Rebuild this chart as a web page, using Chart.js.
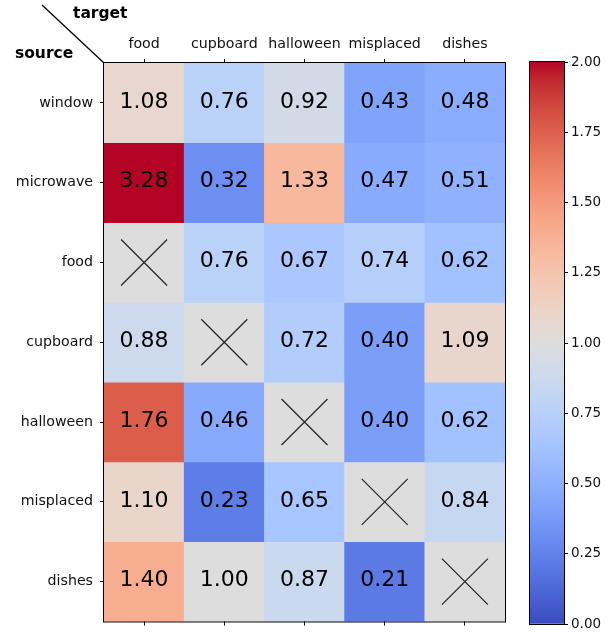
<!DOCTYPE html>
<html>
<head>
<meta charset="utf-8">
<script src="https://cdn.jsdelivr.net/npm/chart.js@4"></script>
<style>
  body { margin: 0; background: #fff; }
  #wrap { position: relative; width: 616px; height: 637px; }
  #heat { position: absolute; left: 0; top: 0; }
  #cbar { position: absolute; left: 520px; top: 0; }
</style>
</head>
<body>
<div id="wrap">
  <canvas id="heat" width="520" height="637"></canvas>
  <canvas id="cbar" width="96" height="637"></canvas>
</div>
<script>
// linhas (source) e colunas (target)
const sources = ['window', 'microwave', 'food', 'cupboard', 'halloween', 'misplaced', 'dishes'];
const targets = ['food', 'cupboard', 'halloween', 'misplaced', 'dishes'];

// valores por linha, null = mesma palavra (X)
const windowVals    = [1.08, 0.76, 0.92, 0.43, 0.48];
const microwaveVals = [3.28, 0.32, 1.33, 0.47, 0.51];
const foodVals      = [null, 0.76, 0.67, 0.74, 0.62];
const cupboardVals  = [0.88, null, 0.72, 0.40, 1.09];
const halloweenVals = [1.76, 0.46, null, 0.40, 0.62];
const misplacedVals = [1.10, 0.23, 0.65, null, 0.84];
const dishesVals    = [1.40, 1.00, 0.87, 0.21, null];
const values = [windowVals, microwaveVals, foodVals, cupboardVals, halloweenVals, misplacedVals, dishesVals];

const vmin = 0, vmax = 2;
const cbarStep = 0.25;

// coolwarm (tabela de Moreland, 33 pontos)
const coolwarm = [
  [59,76,192],[68,90,204],[77,104,215],[87,117,225],[98,130,234],[108,142,241],[119,154,247],[130,165,251],
  [141,176,254],[152,185,255],[163,194,255],[174,201,253],[184,208,249],[194,213,244],[204,217,238],[213,219,230],
  [221,221,221],[229,216,209],[236,211,197],[241,204,185],[245,196,173],[247,187,160],[247,177,148],[247,166,135],
  [244,154,123],[241,141,111],[236,127,99],[229,112,88],[222,96,77],[213,80,66],[203,62,56],[192,40,47],[180,4,38]
];

function cmap(t) {
  t = Math.max(0, Math.min(1, t));
  const p = t * (coolwarm.length - 1);
  const i = Math.min(Math.floor(p), coolwarm.length - 2);
  const f = p - i;
  const a = coolwarm[i], b = coolwarm[i + 1];
  const c = a.map((v, k) => Math.round(v + (b[k] - v) * f));
  return 'rgb(' + c.join(',') + ')';
}

function colorFor(v) {
  if (v === null) return cmap((1 - vmin) / (vmax - vmin));
  return cmap((v - vmin) / (vmax - vmin));
}

const tickFont = { family: 'DejaVu Sans', size: 14.2 };

// plugin com textos das células, X e moldura
const cellText = {
  id: 'cellText',
  afterDatasetsDraw(chart) {
    const ctx = chart.ctx;
    const x = chart.scales.x, y = chart.scales.y;
    ctx.save();
    ctx.font = '22px "DejaVu Sans"';
    ctx.textAlign = 'center';
    ctx.textBaseline = 'middle';
    ctx.fillStyle = '#000';
    values.forEach((row, r) => {
      row.forEach((v, c) => {
        const cx = x.getPixelForValue(c);
        const cy = y.getPixelForValue(r + 0.5);
        if (v === null) {
          const s = 23;
          ctx.strokeStyle = '#222';
          ctx.lineWidth = 1.2;
          ctx.beginPath();
          ctx.moveTo(cx - s, cy - s); ctx.lineTo(cx + s, cy + s);
          ctx.moveTo(cx + s, cy - s); ctx.lineTo(cx - s, cy + s);
          ctx.stroke();
        } else {
          ctx.fillText(v.toFixed(2), cx, cy - 1);
        }
      });
    });
    const a = chart.chartArea;
    ctx.strokeStyle = '#000';
    ctx.lineWidth = 1;
    ctx.strokeRect(a.left - 0.5, a.top - 0.5, a.right - a.left + 1, a.bottom - a.top + 1);

    // cabeçalho diagonal
    ctx.beginPath();
    ctx.moveTo(42, 5);
    ctx.lineTo(a.left, a.top);
    ctx.lineWidth = 1.3;
    ctx.stroke();
    ctx.font = 'bold 15.5px "DejaVu Sans"';
    ctx.textAlign = 'left';
    ctx.textBaseline = 'alphabetic';
    ctx.fillText('target', 73, 17.5);
    ctx.fillText('source', 15, 57.5);
    ctx.restore();
  }
};

const heatCtx = document.getElementById('heat').getContext('2d');
const heatChart = new Chart(heatCtx, {
  type: 'bar',
  data: {
    labels: targets,
    datasets: values.map((row, r) => ({
      label: sources[r],
      data: row.map(() => [r, r + 1]),
      backgroundColor: row.map(colorFor),
      borderWidth: 0,
      barPercentage: 1,
      categoryPercentage: 1,
      grouped: false,
      xAxisID: 'x',
      yAxisID: 'y'
    }))
  },
  options: {
    responsive: false,
    animation: false,
    layout: { padding: { left: 0, top: 0, right: 15, bottom: 0 } },
    plugins: { legend: { display: false }, tooltip: { enabled: false } },
    scales: {
      x: {
        type: 'category',
        position: 'top',
        offset: true,
        grid: { offset: false, drawOnChartArea: false, tickLength: 4, color: '#000' },
        border: { display: false },
        ticks: { font: tickFont, color: '#111', padding: 6, maxRotation: 0 },
        afterFit: (s) => { s.height = 63; }
      },
      x2: {
        type: 'category',
        position: 'bottom',
        offset: true,
        grid: { offset: false, drawOnChartArea: false, tickLength: 4, color: '#000' },
        border: { display: false },
        ticks: { display: false },
        afterFit: (s) => { s.height = 14; }
      },
      y: {
        type: 'linear',
        min: 0,
        max: sources.length,
        reverse: true,
        grid: { drawOnChartArea: false, tickLength: 4, color: '#000' },
        border: { display: false },
        ticks: {
          font: tickFont, color: '#111', padding: 7,
          callback: (v) => sources[Math.floor(v)]
        },
        afterBuildTicks: (s) => { s.ticks = sources.map((_, i) => ({ value: i + 0.5 })); },
        afterFit: (s) => { s.width = 104; }
      }
    }
  },
  plugins: [cellText]
});

// barra de cores
const cbarBorder = {
  id: 'cbarBorder',
  afterDatasetsDraw(chart) {
    const a = chart.chartArea, ctx = chart.ctx;
    ctx.save();
    ctx.strokeStyle = '#000';
    ctx.lineWidth = 1;
    ctx.strokeRect(a.left - 0.5, a.top - 0.5, a.right - a.left + 1, a.bottom - a.top + 1);
    ctx.restore();
  }
};

const cbarCtx = document.getElementById('cbar').getContext('2d');
const cbarChart = new Chart(cbarCtx, {
  type: 'bar',
  data: {
    labels: [''],
    datasets: [{
      data: [[vmin, vmax]],
      borderWidth: 0,
      barPercentage: 1,
      categoryPercentage: 1,
      backgroundColor: (c) => {
        const a = c.chart.chartArea;
        if (!a) return '#ddd';
        const g = c.chart.ctx.createLinearGradient(0, a.bottom, 0, a.top);
        coolwarm.forEach((_, i) => {
          const t = i / (coolwarm.length - 1);
          g.addColorStop(t, cmap(t));
        });
        return g;
      }
    }]
  },
  options: {
    responsive: false,
    animation: false,
    layout: { padding: { left: 10, top: 62, right: 0, bottom: 13 } },
    plugins: { legend: { display: false }, tooltip: { enabled: false } },
    scales: {
      x: { display: false },
      y: {
        position: 'right',
        min: vmin,
        max: vmax,
        grid: { drawOnChartArea: false, tickLength: 4, color: '#000' },
        border: { display: false },
        ticks: {
          stepSize: cbarStep, font: { family: 'DejaVu Sans', size: 13.5 }, color: '#111', padding: 3,
          callback: (v) => v.toFixed(2)
        },
        afterFit: (s) => { s.width = 52; }
      }
    }
  },
  plugins: [cbarBorder]
});
</script>
</body>
</html>
